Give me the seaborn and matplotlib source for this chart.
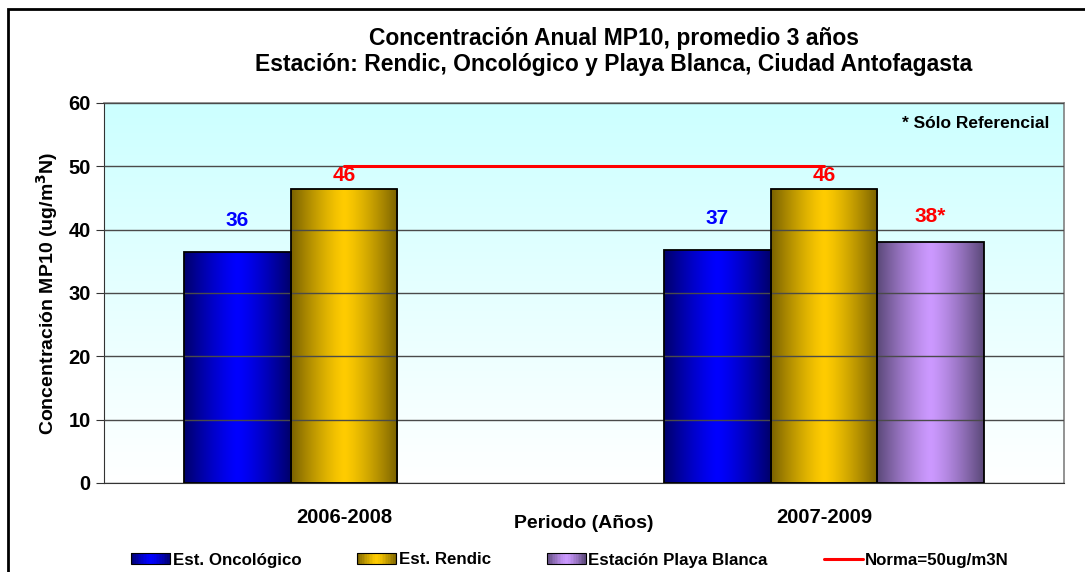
import matplotlib
matplotlib.use("Agg")
import matplotlib.pyplot as plt
import matplotlib.colors as mcolors
from matplotlib.patches import Patch, Rectangle
from matplotlib.lines import Line2D
from matplotlib.legend_handler import HandlerBase
import numpy as np
import pandas as pd
import seaborn as sns

# data
periodos = ["2006-2008", "2007-2009"]
estaciones = ["Est. Oncológico", "Est. Rendic", "Estación Playa Blanca"]
oncologico = [36.4, 36.8]
rendic = [46.4, 46.4]
playa_blanca = [np.nan, 38.0]
etiquetas = [["36", "37"], ["46", "46"], ["", "38*"]]
norma = [50, 50]

# colours (edge, centre) for the shaded bars
col_centro = ["#0000FF", "#FFCC00", "#CC99FF"]
col_borde = ["#00006A", "#7A6200", "#5A4878"]
col_label = ["#0000FF", "#FF0000", "#FF0000"]

df = pd.DataFrame({
    "periodo": periodos * 3,
    "estacion": [e for e in estaciones for _ in periodos],
    "valor": oncologico + rendic + playa_blanca,
})

sns.set_style("white")
plt.rcParams["font.family"] = ["Liberation Sans", "DejaVu Sans"]
plt.rcParams["font.weight"] = "bold"
plt.rcParams["text.color"] = "black"
plt.rcParams["axes.labelcolor"] = "black"
plt.rcParams["xtick.color"] = "black"
plt.rcParams["ytick.color"] = "black"

grad = np.abs(np.linspace(-1, 1, 200)) ** 1.3
grad = (1 - grad).reshape(1, -1)
cmaps = [mcolors.LinearSegmentedColormap.from_list("c%d" % k, [col_borde[k], col_centro[k]])
         for k in range(3)]


# legend box with the same shading as the bars
class GradHandler(HandlerBase):
    def create_artists(self, legend, orig, xd, yd, width, height, fontsize, trans):
        cm = cmaps[orig.k]
        n = 24
        arts = []
        for i in range(n):
            v = 1 - abs((i + 0.5) / n * 2 - 1) ** 1.3
            arts.append(Rectangle((-xd + width * i / n, -yd), width / n + 0.3, height,
                                  facecolor=cm(v), edgecolor="none", transform=trans))
        arts.append(Rectangle((-xd, -yd), width, height, facecolor="none",
                              edgecolor="black", lw=0.8, transform=trans))
        return arts


fig = plt.figure(figsize=(10.85, 5.72), dpi=100)
ax = fig.add_axes([104 / 1085, 1 - 483 / 572, 960 / 1085, 380 / 572])

bar_w = 2 / 3
sns.barplot(data=df, x="periodo", y="valor", hue="estacion", order=periodos,
            hue_order=estaciones, width=bar_w, palette=col_centro, ax=ax,
            legend=False, errorbar=None, saturation=1)

# plot area background: cyan at top to white at the bottom
bg = np.linspace(0, 1, 256).reshape(-1, 1)
bg_cmap = mcolors.LinearSegmentedColormap.from_list("bg", ["#FFFFFF", "#CCFFFF"])
ax.imshow(bg, cmap=bg_cmap, aspect="auto", extent=[0, 1, 0, 1],
          transform=ax.transAxes, origin="lower", zorder=0)

# shaded bars (dark - bright - dark) + data labels
offsets = [[16, 16], [3, 3], [0, 12]]
bars = [p for p in ax.patches if isinstance(p, Rectangle)]
for p in bars:
    h = p.get_height()
    if np.isnan(h) or h == 0:
        continue
    x0 = p.get_x()
    w = p.get_width()
    xc = x0 + w / 2
    j = int(round(xc))
    k = int(round((xc - j) / w + 1))
    im = ax.imshow(grad, cmap=cmaps[k], aspect="auto", extent=[x0, x0 + w, 0, h],
                   zorder=2, vmin=0, vmax=1)
    im.set_clip_path(p)
    p.set_facecolor("none")
    p.set_edgecolor("black")
    p.set_linewidth(1.3)
    p.set_zorder(3)
    txt = etiquetas[k][j]
    if txt:
        ax.annotate(txt, (xc, h), xytext=(0, offsets[k][j]), textcoords="offset points",
                    ha="center", va="bottom", fontsize=15, fontweight="bold",
                    color=col_label[k], zorder=5)

# norma line
ax.plot(range(len(periodos)), norma, color="#FF0000", lw=2.2, zorder=4)

ax.set_xlim(-0.5, 1.5)
ax.set_ylim(0, 60)
ax.set_yticks(range(0, 61, 10))
ax.yaxis.grid(True, color="#4A4A4A", lw=1)
ax.set_axisbelow(False)
for line in ax.get_ygridlines():
    line.set_zorder(1)
ax.set_xticks([-0.5, 0.5, 1.5], minor=True)
ax.tick_params(axis="x", which="major", length=0, pad=18, labelsize=14.5)
ax.tick_params(axis="x", which="minor", length=6, direction="out", color="#333333")
ax.tick_params(axis="y", length=6, direction="out", labelsize=14.5, color="#333333", left=True)
for lab in ax.get_xticklabels() + ax.get_yticklabels():
    lab.set_fontweight("bold")

for s in ["top", "right"]:
    ax.spines[s].set_color("#808080")
    ax.spines[s].set_linewidth(1.2)
ax.spines["left"].set_color("#333333")
ax.spines["bottom"].set_color("#333333")

ax.set_xlabel("Periodo (Años)", fontsize=14, fontweight="bold", labelpad=-9)
ax.set_ylabel("Concentración MP10 (ug/m$^\\mathbf{3}$N)", fontsize=14,
              fontweight="bold", labelpad=6)

ax.text(0.9845, 0.965, "* Sólo Referencial", transform=ax.transAxes, ha="right",
        va="top", fontsize=12.5, fontweight="bold")

fig.text(614 / 1085, 1 - 38 / 572, "Concentración Anual MP10, promedio 3 años",
         ha="center", va="center", fontsize=16.5, fontweight="bold")
fig.text(614 / 1085, 1 - 64 / 572, "Estación: Rendic, Oncológico y Playa Blanca, Ciudad Antofagasta",
         ha="center", va="center", fontsize=16.5, fontweight="bold")

handles = []
for k in range(3):
    hp = Patch(facecolor=col_centro[k])
    hp.k = k
    handles.append(hp)
handles.append(Line2D([0], [0], color="#FF0000", lw=2.2))
leg = fig.legend(handles, estaciones + ["Norma=50ug/m3N"], loc="center",
                 bbox_to_anchor=(570 / 1085, 1 - 560 / 572), ncol=4, frameon=False,
                 fontsize=12.2, handlelength=2.3, handleheight=0.55,
                 handletextpad=0.15, columnspacing=3.3,
                 handler_map={Patch: GradHandler()})
for t in leg.get_texts():
    t.set_fontweight("bold")

# outer chart frame
fig.patches.append(Rectangle((8 / 1085, -0.1), 1.2, 1 - 9 / 572 + 0.1,
                             transform=fig.transFigure, fill=False,
                             edgecolor="black", lw=2))

fig.savefig("out.png", dpi=100)
